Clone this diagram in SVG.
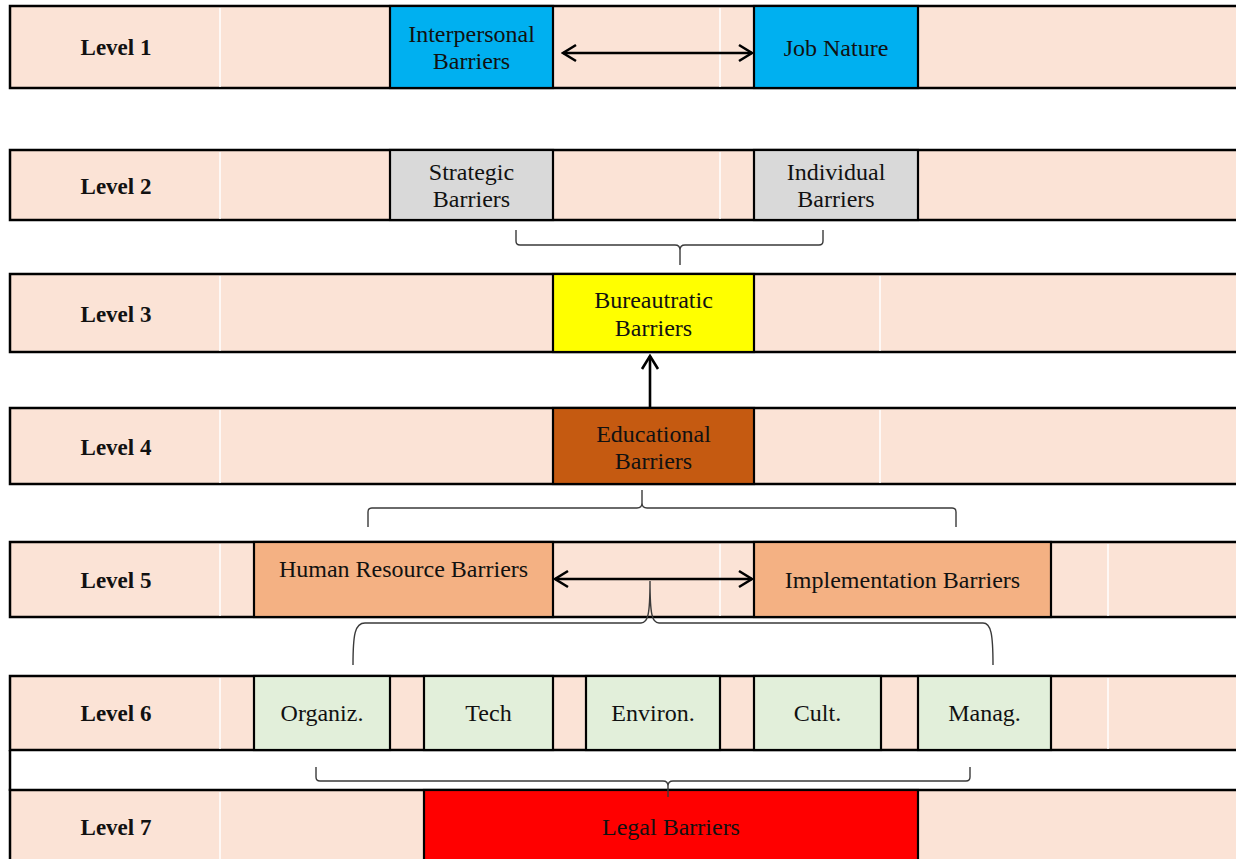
<svg xmlns="http://www.w3.org/2000/svg" width="1236" height="859" viewBox="0 0 1236 859">
<defs>
<style>
.row{fill:#FBE3D6;stroke:#000;stroke-width:2.5}
.div{stroke:#fff;stroke-width:1.5}
.box{stroke:#000;stroke-width:2.2}
.t{font-family:"Liberation Serif","Times New Roman",serif;font-size:24px;fill:#111;text-anchor:middle}
.lv{font-family:"Liberation Serif","Times New Roman",serif;font-size:23px;font-weight:bold;fill:#111;text-anchor:middle}
.arr{stroke:#000;stroke-width:2.6;fill:none}
.brace{stroke:#3a3a3a;stroke-width:1.4;fill:none}
</style>
<marker id="ah" viewBox="0 0 18 20" refX="16" refY="10" markerUnits="userSpaceOnUse" markerWidth="18" markerHeight="20" orient="auto-start-reverse">
<path d="M3,2 L16,10 L3,18" fill="none" stroke="#000" stroke-width="2.6"/>
</marker>
</defs>
<rect x="0" y="0" width="1236" height="859" fill="#fff"/>
<!-- gap between level 6 and 7 -->
<line x1="10" y1="750" x2="10" y2="791" stroke="#000" stroke-width="2.5"/>

<g id="level1">
<rect class="row" x="10" y="6" width="1240" height="82"/>
<line class="div" x1="220" y1="8" x2="220" y2="87"/>
<line class="div" x1="720" y1="8" x2="720" y2="87"/>
<text class="lv" x="116" y="55">Level 1</text>
</g>
<g id="interpersonal">
<rect class="box" x="390" y="6" width="163" height="82" fill="#00B0F0"/>
<text class="t" x="471.5" y="42">Interpersonal</text>
<text class="t" x="471.5" y="69">Barriers</text>
</g>
<g id="jobnature">
<rect class="box" x="754" y="6" width="164" height="82" fill="#00B0F0"/>
<text class="t" x="836" y="56">Job Nature</text>
</g>

<g id="level2">
<rect class="row" x="10" y="150" width="1240" height="70"/>
<line class="div" x1="220" y1="152" x2="220" y2="219"/>
<line class="div" x1="720" y1="152" x2="720" y2="219"/>
<text class="lv" x="116" y="194">Level 2</text>
</g>
<g id="strategic">
<rect class="box" x="390" y="150" width="163" height="70" fill="#D9D9D9"/>
<text class="t" x="471.5" y="180">Strategic</text>
<text class="t" x="471.5" y="207">Barriers</text>
</g>
<g id="individual">
<rect class="box" x="754" y="150" width="164" height="70" fill="#D9D9D9"/>
<text class="t" x="836" y="180">Individual</text>
<text class="t" x="836" y="207">Barriers</text>
</g>

<g id="level3">
<rect class="row" x="10" y="274" width="1240" height="78"/>
<line class="div" x1="220" y1="276" x2="220" y2="351"/>
<line class="div" x1="880" y1="276" x2="880" y2="351"/>
<text class="lv" x="116" y="322">Level 3</text>
</g>
<g id="bureautratic">
<rect class="box" x="553" y="274" width="201" height="78" fill="#FFFF00"/>
<text class="t" x="653.5" y="308">Bureautratic</text>
<text class="t" x="653.5" y="336">Barriers</text>
</g>

<g id="level4">
<rect class="row" x="10" y="408" width="1240" height="76"/>
<line class="div" x1="220" y1="410" x2="220" y2="483"/>
<line class="div" x1="880" y1="410" x2="880" y2="483"/>
<text class="lv" x="116" y="455">Level 4</text>
</g>
<g id="educational">
<rect class="box" x="553" y="408" width="201" height="76" fill="#C55A11"/>
<text class="t" x="653.5" y="442">Educational</text>
<text class="t" x="653.5" y="469">Barriers</text>
</g>

<g id="level5">
<rect class="row" x="10" y="542" width="1240" height="75"/>
<line class="div" x1="220" y1="544" x2="220" y2="616"/>
<line class="div" x1="720" y1="544" x2="720" y2="616"/>
<line class="div" x1="1108" y1="544" x2="1108" y2="616"/>
<text class="lv" x="116" y="588">Level 5</text>
</g>
<g id="humanresource">
<rect class="box" x="254" y="542" width="299" height="75" fill="#F4B183"/>
<text class="t" x="403.5" y="577">Human Resource Barriers</text>
</g>
<g id="implementation">
<rect class="box" x="754" y="542" width="297" height="75" fill="#F4B183"/>
<text class="t" x="902.5" y="588">Implementation Barriers</text>
</g>

<g id="level6">
<rect class="row" x="10" y="676" width="1240" height="74"/>
<line class="div" x1="220" y1="678" x2="220" y2="749"/>
<line class="div" x1="1108" y1="678" x2="1108" y2="749"/>
<text class="lv" x="116" y="721">Level 6</text>
</g>
<g id="organiz">
<rect class="box" x="254" y="676" width="136" height="74" fill="#E2EFDA"/>
<text class="t" x="322" y="721">Organiz.</text>
</g>
<g id="tech">
<rect class="box" x="424" y="676" width="129" height="74" fill="#E2EFDA"/>
<text class="t" x="488.5" y="721">Tech</text>
</g>
<g id="environ">
<rect class="box" x="586" y="676" width="134" height="74" fill="#E2EFDA"/>
<text class="t" x="653" y="721">Environ.</text>
</g>
<g id="cult">
<rect class="box" x="754" y="676" width="127" height="74" fill="#E2EFDA"/>
<text class="t" x="817.5" y="721">Cult.</text>
</g>
<g id="manag">
<rect class="box" x="918" y="676" width="133" height="74" fill="#E2EFDA"/>
<text class="t" x="984.5" y="721">Manag.</text>
</g>

<g id="level7">
<rect class="row" x="10" y="790" width="1240" height="90"/>
<line class="div" x1="220" y1="792" x2="220" y2="859"/>
<text class="lv" x="116" y="835">Level 7</text>
</g>
<g id="legal">
<rect class="box" x="424" y="790" width="494" height="90" fill="#FF0000"/>
<text class="t" x="671" y="835">Legal Barriers</text>
</g>

<g id="connectors">
<line class="arr" x1="563" y1="53" x2="752" y2="53" marker-start="url(#ah)" marker-end="url(#ah)"/>
<path class="brace" d="M516,230 V241 Q516,245 520,245 H675 Q680,245 680,250 V265 M680,250 Q680,245 685,245 H819 Q823,245 823,241 V230"/>
<line class="arr" x1="650" y1="407" x2="650" y2="356" marker-end="url(#ah)"/>
<path class="brace" d="M368,527 V512 Q368,508 372,508 H637 Q642,508 642,503 V490 M642,503 Q642,508 647,508 H952 Q956,508 956,512 V527"/>
<line class="arr" x1="555" y1="579" x2="752" y2="579" marker-start="url(#ah)" marker-end="url(#ah)"/>
<path class="brace" d="M353,665 C353,634 355,623 365,623 H641 C648,623 650,614 650,581 M650,581 C650,614 652,623 659,623 H983 C991,623 993,634 993,665"/>
<path class="brace" d="M316,767 V777 Q316,781 320,781 H663 Q668,781 668,786 V797 M668,786 Q668,781 673,781 H966 Q970,781 970,777 V767"/>
</g>
</svg>
